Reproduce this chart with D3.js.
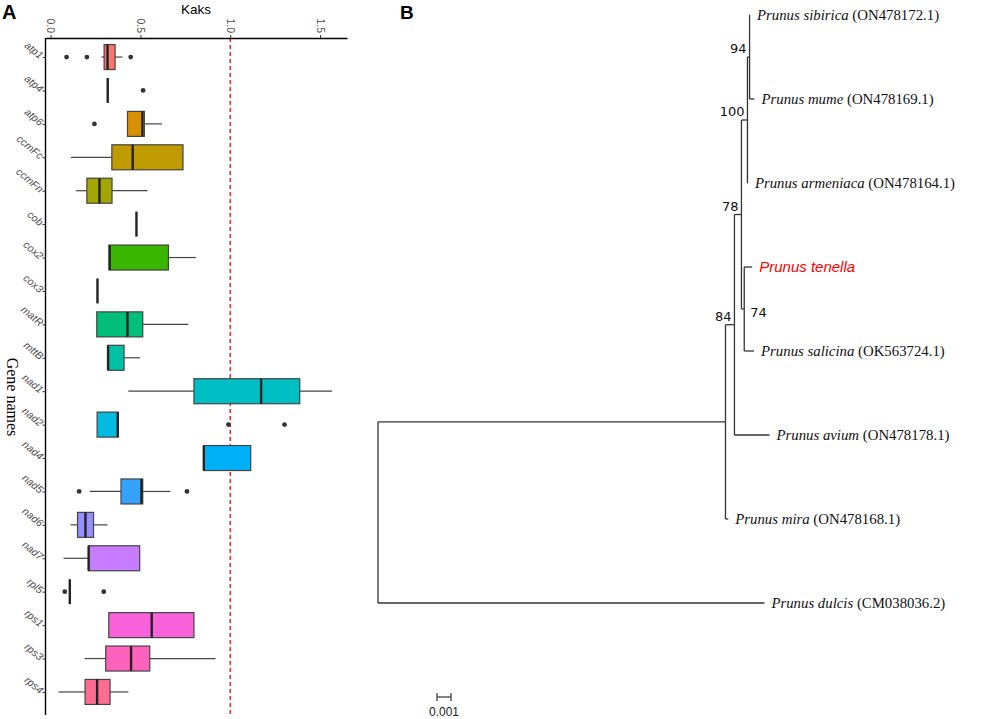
<!DOCTYPE html>
<html><head><meta charset="utf-8">
<script src="https://cdn.jsdelivr.net/npm/d3@7/dist/d3.min.js"></script>
<style>body{margin:0;background:#fff}</style>
</head><body>
<svg id="chart" width="996" height="719"></svg>
<script>
// ---------- Panel A data ----------
const genes = ["atp1","atp4","atp6","ccmFc","ccmFn","cob","cox2","cox3","matR","mttB","nad1","nad2","nad4","nad5","nad6","nad7","rpl5","rps1","rps3","rps4"];
const lowerWhisker = [0.283,0.318,0.428,0.113,0.141,0.478,0.326,0.261,0.257,0.320,0.433,0.259,0.852,0.218,0.111,0.072,0.107,0.324,0.189,0.044];
const q1Values     = [0.298,0.318,0.428,0.341,0.202,0.478,0.326,0.261,0.257,0.320,0.798,0.259,0.852,0.392,0.150,0.211,0.107,0.324,0.307,0.192];
const medianValues = [0.317,0.318,0.511,0.457,0.272,0.478,0.329,0.261,0.428,0.320,1.172,0.374,0.853,0.506,0.194,0.212,0.107,0.563,0.448,0.259];
const q3Values     = [0.359,0.318,0.522,0.737,0.342,0.478,0.656,0.261,0.513,0.409,1.387,0.376,1.114,0.513,0.239,0.496,0.107,0.798,0.552,0.331];
const upperWhisker = [0.400,0.318,0.620,0.737,0.539,0.478,0.809,0.261,0.767,0.498,1.567,0.376,1.114,0.667,0.317,0.496,0.107,0.798,0.918,0.433];
const outlierValues = [[0.089,0.202,0.446],[0.515],[0.244],[],[],[],[],[],[],[],[],[0.99,1.302],[],[0.159,0.759],[],[],[0.079,0.296],[],[],[]];
const geneColors = ["#F8766D","#EA8331","#D89000","#C09B00","#A3A500","#7CAE00","#39B600","#00BB4E","#00BF7D","#00C1A3","#00BFC4","#00BAE0","#00B0F6","#35A2FF","#9590FF","#C77CFF","#E76BF3","#FA62DB","#FF62BC","#FF6C91"];
const kaksTicks = [0, 0.5, 1.0, 1.5];
const refLine = 1.0;

// ---------- Panel B data ----------
const treeIds      = ["root","A","Prunus dulcis","B","Prunus mira","C","Prunus avium","D","E","F","Prunus armeniaca","Prunus sibirica","Prunus mume","Prunus tenella","Prunus salicina"];
const treeParents  = ["","root","root","A","A","B","B","C","C","D","D","F","F","E","E"];
const branchLength = [0,0.02482,0.0276,0.00064,0.0002,0.0005,0.0025,0.00043,0.0002,0.00015,0.00003,0.00003,0.00035,0.00057,0.0007];
const bootstrap    = [null,null,null,84,null,78,null,100,74,94,null,null,null,null,null];
const accessions   = ["","","CM038036.2","","ON478168.1","","ON478178.1","","","","ON478164.1","ON478172.1","ON478169.1","","OK563724.1"];
const highlighted  = ["Prunus tenella"];
const scaleBarValue = 0.001;

const svg = d3.select("#chart");
const sans = "Liberation Sans, Arial, sans-serif";

// ================= Panel A =================
const x = d3.scaleLinear().domain([-0.0283, 1.65]).range([45.5, 347]);
const y = d3.scalePoint().domain(genes).range([37, 712]).padding(0.6);
const boxH = 25;
const gA = svg.append("g");

gA.append("line").attr("x1", x(refLine)).attr("x2", x(refLine)).attr("y1", 38).attr("y2", 715)
  .attr("stroke", "#FF0000").attr("stroke-width", 1.3).attr("stroke-dasharray", "4,3");

const xAxis = d3.axisTop(x).tickValues(kaksTicks).tickFormat(d3.format(".1f")).tickSize(3).tickSizeOuter(0);
const ax = gA.append("g").attr("transform", "translate(0,38)").call(xAxis);
ax.select(".domain").attr("stroke", "#000").attr("stroke-width", 1.4);
ax.selectAll(".tick line").attr("stroke", "#333");
ax.selectAll(".tick text").attr("transform", "rotate(90)").attr("x", -5).attr("y", 0).attr("dy", "0.35em")
  .attr("text-anchor", "end").attr("fill", "#4D4D4D").style("font-family", sans).style("font-size", "10.5px");

const yAxis = d3.axisLeft(y).tickSize(3).tickSizeOuter(0);
const ay = gA.append("g").attr("transform", "translate(45.5,0)").call(yAxis);
ay.select(".domain").attr("d", "M0,38V715").attr("stroke", "#000").attr("stroke-width", 1.4);
ay.selectAll(".tick line").attr("stroke", "#333");
ay.selectAll(".tick text").attr("x", 0).attr("y", 0).attr("dy", 0)
  .attr("transform", "translate(-6,2) rotate(40)").attr("text-anchor", "end")
  .attr("fill", "#4D4D4D").style("font-family", sans).style("font-size", "10.5px").style("font-style", "italic");

gA.append("text").attr("x", 196).attr("y", 14).attr("text-anchor", "middle")
  .style("font-family", sans).style("font-size", "13.5px").text("Kaks");
gA.append("text").attr("transform", "translate(7,397) rotate(90)").attr("text-anchor", "middle")
  .style("font-family", "Liberation Serif, Times New Roman, serif").style("font-size", "16px").text("Gene names");

const boxes = gA.append("g").selectAll("g").data(genes).join("g");
boxes.append("line").attr("x1", (d,i) => x(lowerWhisker[i])).attr("x2", (d,i) => x(q1Values[i]))
  .attr("y1", d => y(d)).attr("y2", d => y(d)).attr("stroke", "#444").attr("stroke-width", 1.2);
boxes.append("line").attr("x1", (d,i) => x(q3Values[i])).attr("x2", (d,i) => x(upperWhisker[i]))
  .attr("y1", d => y(d)).attr("y2", d => y(d)).attr("stroke", "#444").attr("stroke-width", 1.2);
boxes.append("rect").attr("x", (d,i) => x(q1Values[i])).attr("width", (d,i) => x(q3Values[i]) - x(q1Values[i]))
  .attr("y", d => y(d) - boxH/2).attr("height", boxH)
  .attr("fill", (d,i) => geneColors[i]).attr("stroke", "#444").attr("stroke-width", 1.2);
boxes.append("line").attr("x1", (d,i) => x(medianValues[i])).attr("x2", (d,i) => x(medianValues[i]))
  .attr("y1", d => y(d) - boxH/2).attr("y2", d => y(d) + boxH/2).attr("stroke", "#222").attr("stroke-width", 2.4);
boxes.each(function(d, i) {
  d3.select(this).selectAll("circle").data(outlierValues[i]).join("circle")
    .attr("cx", v => x(v)).attr("cy", y(d)).attr("r", 2.4).attr("fill", "#333");
});

svg.append("text").attr("x", 2).attr("y", 19).style("font-family", sans)
  .style("font-size", "20px").style("font-weight", "bold").text("A");

// ================= Panel B =================
const table = treeIds.map((id, i) => ({id, parent: treeParents[i] || null, len: branchLength[i], support: bootstrap[i], acc: accessions[i]}));
const root = d3.stratify().id(d => d.id).parentId(d => d.parent)(table);
root.each(n => { n.dist = (n.parent ? n.parent.dist : 0) + n.data.len; });
const leaves = root.leaves();
// 0.001 substitutions/site = 14 px, root at x = 378
const tx = d3.scaleLinear().domain([0, scaleBarValue]).range([378, 392]);
const ty = d3.scalePoint().domain(leaves.map(l => l.id)).range([15, 603]);
root.eachAfter(n => {
  n.py = n.children ? (n.children[0].py + n.children[n.children.length - 1].py) / 2 : ty(n.id);
  n.px = tx(n.dist);
});

const gB = svg.append("g").attr("stroke", "#333").attr("stroke-width", 1.3).attr("fill", "none");
root.descendants().forEach(n => {
  if (n.parent) gB.append("line").attr("x1", n.parent.px).attr("x2", n.px).attr("y1", n.py).attr("y2", n.py);
  if (n.children) gB.append("line").attr("x1", n.px).attr("x2", n.px)
      .attr("y1", n.children[0].py).attr("y2", n.children[n.children.length - 1].py);
});

root.descendants().filter(n => n.data.support != null).forEach(n => {
  const right = n.id === "E";
  svg.append("text").attr("x", right ? n.px + 6 : n.px - 3).attr("y", right ? n.py + 8 : n.py - 4)
    .attr("text-anchor", right ? "start" : "end")
    .style("font-family", "DejaVu Sans, Verdana, sans-serif").style("font-size", "13px").attr("fill", "#111")
    .text(n.data.support);
});

leaves.forEach(l => {
  const t = svg.append("text").attr("x", l.px + 7).attr("y", l.py + 5);
  if (highlighted.includes(l.id)) {
    t.attr("fill", "#FF0000").style("font-family", sans)
     .style("font-size", "15px").style("font-style", "italic").text(l.id);
  } else {
    t.attr("fill", "#111").style("font-family", "Liberation Serif, Times New Roman, serif").style("font-size", "14.8px");
    t.append("tspan").style("font-style", "italic").text(l.id);
    t.append("tspan").text(" (" + l.data.acc + ")");
  }
});

const sbX = 437, sbY = 697, sbLen = tx(scaleBarValue) - tx(0);
const sb = svg.append("g").attr("stroke", "#333").attr("stroke-width", 1.2);
sb.append("line").attr("x1", sbX).attr("x2", sbX + sbLen).attr("y1", sbY).attr("y2", sbY);
sb.append("line").attr("x1", sbX).attr("x2", sbX).attr("y1", sbY - 4).attr("y2", sbY + 4);
sb.append("line").attr("x1", sbX + sbLen).attr("x2", sbX + sbLen).attr("y1", sbY - 4).attr("y2", sbY + 4);
svg.append("text").attr("x", sbX + sbLen / 2).attr("y", 716).attr("text-anchor", "middle")
  .style("font-family", sans).style("font-size", "12px").attr("fill", "#222")
  .text(d3.format(".3f")(scaleBarValue));

svg.append("text").attr("x", 400).attr("y", 19).style("font-family", sans)
  .style("font-size", "19px").style("font-weight", "bold").text("B");
</script>
</body></html>
